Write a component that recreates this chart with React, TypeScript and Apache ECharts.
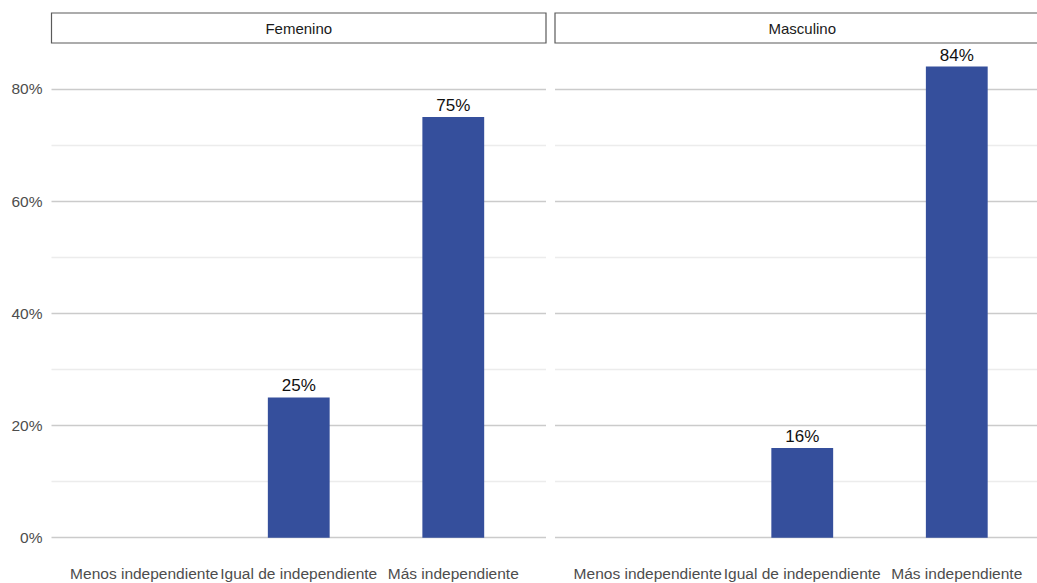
import React, { useEffect, useRef } from "react";
import * as echarts from "echarts";

const categories = ["Menos independiente", "Igual de independiente", "Más independiente"];
const panels = ["Femenino", "Masculino"];
const femeninoValues = [0, 25, 75];
const masculinoValues = [0, 16, 84];
const yTickStep = 10;

const FONT = "'Liberation Sans', Arial, Helvetica, sans-serif";
const BAR_COLOR = "#354f9c";

export default function App() {
  const ref = useRef<HTMLDivElement>(null);
  useEffect(() => {
    if (!ref.current) return;
    const chart = echarts.init(ref.current, null, { renderer: "svg" });
    const panelLefts = [51.5, 555];
    const panelWidth = 494.5;
    const top = 43;
    const yMax = 88.2;
    const height = 494.7;
    const unit = panelWidth / 3.2;
    const seriesValues = [femeninoValues, masculinoValues];

    const grids = panelLefts.map((l) => ({
      left: l,
      top,
      width: panelWidth,
      height,
      containLabel: false,
      outerBoundsMode: "none",
    }));
    const xAxes = panelLefts.map((_, i) => ({
      type: "value",
      gridIndex: i,
      min: 0.4,
      max: 3.6,
      axisLine: { show: false },
      axisTick: { show: false },
      splitLine: { show: false },
      axisLabel: {
        customValues: [1, 2, 3],
        hideOverlap: false,
        showMinLabel: true,
        showMaxLabel: true,
        formatter: (v: number) => categories[Math.round(v) - 1] ?? "",
        fontFamily: FONT,
        fontSize: 15.5,
        color: "#4d4d4d",
        margin: 28,
      },
    }));
    const yAxes = panelLefts.map((_, i) => ({
      type: "value",
      gridIndex: i,
      min: 0,
      max: yMax,
      interval: yTickStep,
      axisLine: { show: false },
      axisTick: { show: false },
      axisLabel: {
        show: i === 0,
        formatter: (v: number) => (Math.abs(v % 20) < 1e-6 ? `${v}%` : ""),
        fontFamily: FONT,
        fontSize: 15.5,
        color: "#4d4d4d",
        margin: 9,
      },
      splitLine: {
        show: true,
        showMaxLine: false,
        lineStyle: { color: ["#cbcbcb", "#ececec"], width: 1.3 },
      },
    }));
    const series = seriesValues.map((vals, i) => ({
      type: "bar",
      xAxisIndex: i,
      yAxisIndex: i,
      barWidth: unit * 0.4,
      itemStyle: { color: BAR_COLOR },
      data: vals.map((v, j) => [j + 1, v]),
      label: {
        show: true,
        position: "top",
        distance: 3,
        fontFamily: FONT,
        fontSize: 17,
        color: "#111",
        formatter: (p: any) => (p.value[1] > 0 ? `${p.value[1]}%` : ""),
      },
    }));
    const graphic: any[] = [];
    panelLefts.forEach((l, i) => {
      graphic.push({
        type: "rect",
        shape: { x: l, y: 13, width: panelWidth, height: 30 },
        style: { fill: "#fff", stroke: "#5a5a5a", lineWidth: 1.2 },
        z: 10,
      });
      graphic.push({
        type: "text",
        x: l + panelWidth / 2,
        y: 28,
        style: {
          text: panels[i],
          fontFamily: FONT,
          fontSize: 15,
          fill: "#1a1a1a",
          align: "center",
          verticalAlign: "middle",
        },
        z: 11,
      });
    });

    chart.setOption({
      animation: false,
      backgroundColor: "#fff",
      grid: grids,
      xAxis: xAxes,
      yAxis: yAxes,
      series,
      graphic,
    });
    return () => chart.dispose();
  }, []);
  return (
    <div
      ref={ref}
      style={{ position: "fixed", left: 0, top: 0, width: 1037, height: 583, background: "#fff" }}
    />
  );
}
